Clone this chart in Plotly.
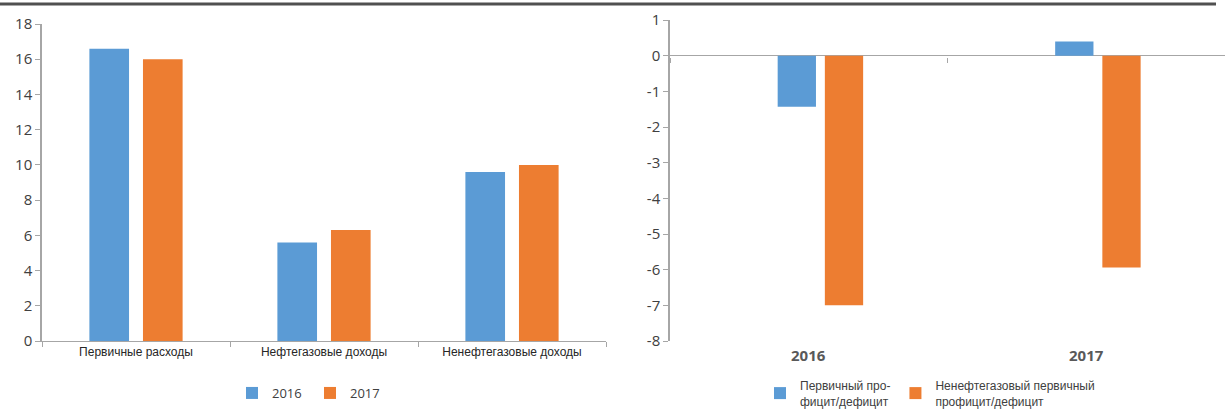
import plotly.graph_objects as go

# Left chart data
left_categories = ["Первичные расходы", "Нефтегазовые доходы", "Ненефтегазовые доходы"]
left_2016 = [16.6, 5.6, 9.6]
left_2017 = [16.0, 6.3, 10.0]
left_series_names = ["2016", "2017"]

# Right chart data
right_categories = ["2016", "2017"]
primary_balance = [-1.43, 0.4]
nonoil_primary_balance = [-7.0, -5.94]
right_series_names = ["Первичный про-<br>фицит/дефицит", "Ненефтегазовый первичный<br>профицит/дефицит"]

left_ticks = list(range(0, 19, 2))
right_ticks = list(range(-8, 2))
right_ticktext = [str(v) for v in right_ticks]

BLUE = "#5B9BD5"
ORANGE = "#ED7D31"
AXIS = "#A6A6A6"
TXT = "#404040"

W, H = 1225, 411
def px(x):
    return x / W
def py(y):
    return (H - y) / H

fig = go.Figure()

fig.add_trace(go.Bar(x=left_categories, y=left_2016, name=left_series_names[0],
                     marker=dict(color=BLUE, line=dict(width=0)), xaxis="x", yaxis="y",
                     legend="legend"))
fig.add_trace(go.Bar(x=left_categories, y=left_2017, name=left_series_names[1],
                     marker=dict(color=ORANGE, line=dict(width=0)), xaxis="x", yaxis="y",
                     legend="legend"))

fig.add_trace(go.Bar(x=right_categories, y=primary_balance, name=right_series_names[0],
                     marker=dict(color=BLUE, line=dict(width=0)), xaxis="x2", yaxis="y2",
                     width=0.138, offset=-0.112, legend="legend2"))
fig.add_trace(go.Bar(x=right_categories, y=nonoil_primary_balance, name=right_series_names[1],
                     marker=dict(color=ORANGE, line=dict(width=0)), xaxis="x2", yaxis="y2",
                     width=0.138, offset=0.058, legend="legend2"))

# Right x labels (category names) at the bottom
for i, c in enumerate(right_categories):
    fig.add_annotation(x=i, xref="x2", y=py(355), yref="paper", text=c, showarrow=False,
                       font=dict(family="Open Sans", size=15, color="#595959", weight="bold"),
                       yanchor="middle")

# top dark rule
fig.add_shape(type="line", xref="paper", yref="paper", x0=0, x1=px(1216), y0=py(4), y1=py(4),
              line=dict(color="#505050", width=3))

fig.update_layout(
    width=W, height=H,
    margin=dict(l=0, r=0, t=0, b=0, autoexpand=False),
    paper_bgcolor="white", plot_bgcolor="white",
    barmode="group", bargap=0.43, bargroupgap=0.26,
    showlegend=True,
    font=dict(family="Open Sans", color=TXT),
    xaxis=dict(domain=[px(42), px(606)], anchor="y", type="category", automargin=False,
               showline=True, linecolor=AXIS, linewidth=1, showgrid=False,
               ticks="outside", tickson="boundaries", ticklen=5, tickcolor=AXIS,
               tickfont=dict(family="Liberation Sans", size=12, color="#262626")),
    yaxis=dict(domain=[py(341), py(24)], anchor="x", range=[0, 18], tickvals=left_ticks,
               automargin=False,
               showline=True, linecolor=AXIS, linewidth=1.5, showgrid=False, zeroline=False,
               ticks="outside", ticklen=5, tickcolor=AXIS,
               tickfont=dict(family="Open Sans", size=15, color=TXT)),
    xaxis2=dict(domain=[px(670), px(1225)], anchor="free", position=py(57), type="category",
                range=[-0.5, 1.5], automargin=False,
                showline=False, showgrid=False, showticklabels=False,
                ticks="outside", tickson="boundaries", ticklen=5, tickcolor=AXIS),
    yaxis2=dict(domain=[py(341), py(20)], anchor="x2", range=[-8, 1],
                tickvals=right_ticks, ticktext=right_ticktext, automargin=False,
                showline=True, linecolor=AXIS, linewidth=1.5, showgrid=False,
                zeroline=True, zerolinecolor=AXIS, zerolinewidth=1,
                ticks="outside", ticklen=5, tickcolor=AXIS,
                tickfont=dict(family="Open Sans", size=15, color=TXT)),
    legend=dict(orientation="h", x=px(232), xanchor="left", y=py(408), yanchor="bottom",
                font=dict(family="Open Sans", size=13, color=TXT),
                itemwidth=30, entrywidth=33, entrywidthmode="pixels",
                tracegroupgap=0, bgcolor="rgba(0,0,0,0)"),
    legend2=dict(orientation="h", x=px(760), xanchor="left", y=py(416), yanchor="bottom",
                 font=dict(family="Liberation Sans", size=12, color=TXT),
                 itemwidth=30, bgcolor="rgba(0,0,0,0)"),
)

fig.write_html("out.html", config={"displayModeBar": False},
               post_script="document.body.style.margin='0';")
